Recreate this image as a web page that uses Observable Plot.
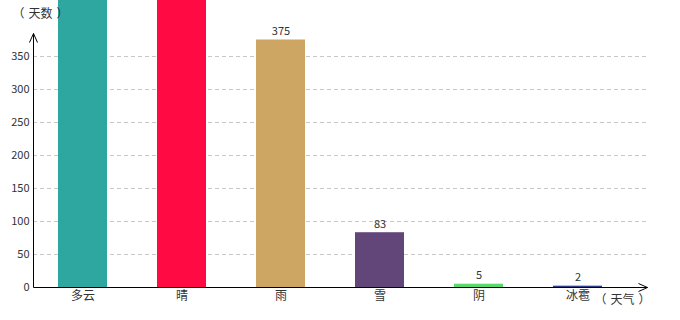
<!DOCTYPE html>
<html><head><meta charset="utf-8">
<script src="https://cdn.jsdelivr.net/npm/d3@7"></script>
<script src="https://cdn.jsdelivr.net/npm/@observablehq/plot@0.6"></script>
<style>body{margin:0;background:#fff}</style>
</head><body><div id="chart"></div>
<script>
const categories = ["多云", "晴", "雨", "雪", "阴", "冰雹"];
const values = [480, 520, 375, 83, 5, 2];
const colors = ["#2ea7a1", "#ff0a42", "#cea664", "#624679", "#5bda6b", "#2c3e8c"];
const yTicks = [0, 50, 100, 150, 200, 250, 300, 350];
const xTitle = "（天气）";
const yTitle = "（天数）";
const yMax = 434.85;

const data = categories.map((c, i) => ({category: c, value: values[i], color: colors[i]}));

function addTitle(g, x, y, str) {
  const t = g.append("text").attr("x", x).attr("y", y).attr("text-anchor", "middle")
    .attr("dominant-baseline", "middle").attr("fill", "#333").attr("font-size", 12);
  const chars = Array.from(str);
  t.append("tspan").text(chars[0]);
  t.append("tspan").attr("dx", 4).text(chars.slice(1, -1).join(""));
  t.append("tspan").attr("dx", 4).text(chars[chars.length - 1]);
}

function axesDecor(index, scales, vals, dims) {
  const x0 = dims.marginLeft + 0.5;
  const y0 = Math.round(scales.y(0)) + 0.5;
  const xEnd = dims.width - dims.marginRight - 0.5;
  const yTop = Math.round(scales.y(385)) + 0.5;
  const g = d3.create("svg:g");
  g.append("path")
    .attr("fill", "none").attr("stroke", "#000").attr("stroke-width", 1)
    .attr("d", `M${x0},${y0}V${yTop}M${x0 - 4},${yTop + 9}L${x0},${yTop}L${x0 + 4},${yTop + 9}` +
               `M${x0},${y0}H${xEnd}M${xEnd - 9},${y0 - 4}L${xEnd},${y0}L${xEnd - 9},${y0 + 4}`);
  addTitle(g, x0 + 7, 15, yTitle);
  addTitle(g, xEnd - 25, y0 + 13, xTitle);
  return g.node();
}

const chart = Plot.plot({
  width: 680,
  height: 320,
  marginLeft: 33,
  marginRight: 32,
  marginTop: 0,
  marginBottom: 33,
  style: {fontFamily: "'Noto Sans CJK SC', 'Noto Sans', sans-serif", fontSize: "11px", color: "#333", background: "#fff", overflow: "visible"},
  x: {domain: categories, range: [33, 627], paddingInner: 0.505, paddingOuter: 0.2525, label: null},
  y: {domain: [0, yMax], label: null},
  marks: [
    Plot.ruleY(yTicks.filter(t => t > 0), {stroke: "#c8c8c8", strokeDasharray: "4,3"}),
    Plot.barY(data, {x: "category", y: "value", fill: "color", clip: true}),
    Plot.text(data.filter(d => d.value < yMax - 20), {x: "category", y: "value", text: d => String(d.value), dy: -5, lineAnchor: "bottom", fill: "#333"}),
    Plot.axisY({ticks: yTicks, tickSize: 0, tickPadding: 4, label: null}),
    Plot.axisX({tickSize: 0, tickPadding: 4, label: null, fontSize: 12}),
    axesDecor
  ]
});
document.getElementById("chart").append(chart);
</script>
</body></html>
